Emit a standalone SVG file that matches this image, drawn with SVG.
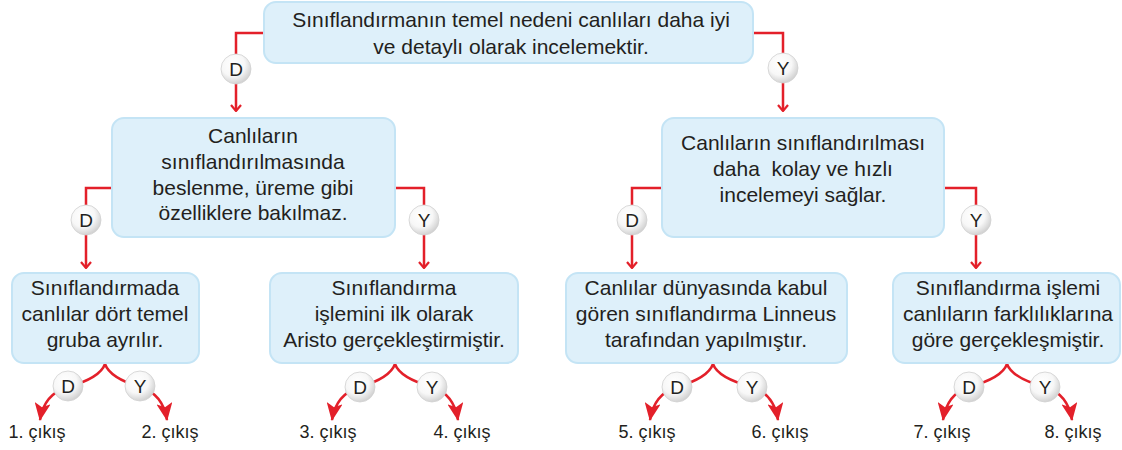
<svg xmlns="http://www.w3.org/2000/svg" width="1122" height="450" viewBox="0 0 1122 450">
<style>
.box{fill:#def0fa;stroke:#c4e4f5;stroke-width:2}
.t{font-family:"Liberation Sans",Arial,sans-serif;font-size:21px;fill:#231f20;text-anchor:middle}
.lbl{font-family:"Liberation Sans",Arial,sans-serif;font-size:18px;fill:#231f20;text-anchor:middle}
.bl{font-family:"Liberation Sans",Arial,sans-serif;font-size:19px;fill:#231f20;text-anchor:middle}
.c{fill:url(#cg);stroke:#d0d0d0;stroke-width:0.8}
.ln{fill:none;stroke:#e3202a;stroke-width:2.5}
.va{marker-end:url(#chev)}
.ca{marker-end:url(#tri)}
</style>
<defs>
<radialGradient id="cg" cx="0.4" cy="0.35" r="0.65">
<stop offset="0" stop-color="#ffffff"/>
<stop offset="0.6" stop-color="#f7f7f7"/>
<stop offset="1" stop-color="#d2d2d2"/>
</radialGradient>
<marker id="chev" viewBox="0 0 8 12" refX="7" refY="6" markerWidth="8" markerHeight="12" markerUnits="userSpaceOnUse" orient="auto">
<path d="M1,1 L7,6 L1,11" fill="none" stroke="#e3202a" stroke-width="2.2"/>
</marker>
<marker id="tri" viewBox="0 0 18 16" refX="17" refY="8" markerWidth="18" markerHeight="16" markerUnits="userSpaceOnUse" orient="auto">
<path d="M0,0 L18,8 L0,16 L4,8 z" fill="#e3202a"/>
</marker>
</defs>

<g id="connectors">
<path class="ln va" d="M264,33 H236 V111"/>
<path class="ln va" d="M753,33 H783 V111"/>
<path class="ln va" d="M112,188 H86 V268"/>
<path class="ln va" d="M395,188 H424 V268"/>
<path class="ln va" d="M662,188 H632 V268"/>
<path class="ln va" d="M944,188 H976 V268"/>
<path class="ln" d="M105,364 Q100,378 68,387"/>
<path class="ln" d="M105,364 Q110,378 140,387"/>
<path class="ln ca" d="M68,387 Q44,394 40,420"/>
<path class="ln ca" d="M140,387 Q163,394 167,420"/>

<path class="ln" d="M395,364 Q390,378 360,387"/>
<path class="ln" d="M395,364 Q400,378 432,387"/>
<path class="ln ca" d="M360,387 Q336,394 332,420"/>
<path class="ln ca" d="M432,387 Q454,394 458,420"/>

<path class="ln" d="M713,364 Q708,378 677,387"/>
<path class="ln" d="M713,364 Q718,378 752,387"/>
<path class="ln ca" d="M677,387 Q654,394 650,420"/>
<path class="ln ca" d="M752,387 Q774,394 778,420"/>

<path class="ln" d="M1007,364 Q1002,378 969,387"/>
<path class="ln" d="M1007,364 Q1012,378 1045,387"/>
<path class="ln ca" d="M969,387 Q947,394 943,420"/>
<path class="ln ca" d="M1045,387 Q1068,394 1072,420"/>
</g>

<g id="badges">
<circle class="c" cx="236" cy="69" r="15"/><text class="bl" x="236" y="76">D</text>
<circle class="c" cx="783" cy="68" r="15"/><text class="bl" x="783" y="75">Y</text>
<circle class="c" cx="86" cy="220" r="15"/><text class="bl" x="86" y="227">D</text>
<circle class="c" cx="424" cy="220" r="15"/><text class="bl" x="424" y="227">Y</text>
<circle class="c" cx="632" cy="220" r="15"/><text class="bl" x="632" y="227">D</text>
<circle class="c" cx="976" cy="220" r="15"/><text class="bl" x="976" y="227">Y</text>
<circle class="c" cx="68" cy="386" r="15"/><text class="bl" x="68" y="393">D</text>
<circle class="c" cx="140" cy="386" r="15"/><text class="bl" x="140" y="393">Y</text>
<circle class="c" cx="360" cy="387" r="15"/><text class="bl" x="360" y="394">D</text>
<circle class="c" cx="432" cy="387" r="15"/><text class="bl" x="432" y="394">Y</text>
<circle class="c" cx="677" cy="387" r="15"/><text class="bl" x="677" y="394">D</text>
<circle class="c" cx="752" cy="387" r="15"/><text class="bl" x="752" y="394">Y</text>
<circle class="c" cx="969" cy="387" r="15"/><text class="bl" x="969" y="394">D</text>
<circle class="c" cx="1045" cy="387" r="15"/><text class="bl" x="1045" y="394">Y</text>
</g>

<g id="n-root">
<rect class="box" x="264" y="2" width="489" height="61" rx="12"/>
<text class="t" x="511" y="27">Sınıflandırmanın temel nedeni canlıları daha iyi</text>
<text class="t" x="511" y="54">ve detaylı olarak incelemektir.</text>
</g>

<g id="n-left">
<rect class="box" x="112" y="118" width="283" height="119" rx="12"/>
<text class="t" x="253" y="143">Canlıların</text>
<text class="t" x="253" y="169">sınıflandırılmasında</text>
<text class="t" x="253" y="195">beslenme, üreme gibi</text>
<text class="t" x="253" y="220">özelliklere bakılmaz.</text>
</g>

<g id="n-right">
<rect class="box" x="662" y="118" width="282" height="119" rx="12"/>
<text class="t" x="803" y="150">Canlıların sınıflandırılması</text>
<text class="t" x="803" y="176" style="white-space:pre">daha  kolay ve hızlı</text>
<text class="t" x="803" y="202">incelemeyi sağlar.</text>
</g>

<g id="n-b1">
<rect class="box" x="12" y="273" width="187" height="90" rx="12"/>
<text class="t" x="105" y="295">Sınıflandırmada</text>
<text class="t" x="105" y="321">canlılar dört temel</text>
<text class="t" x="105" y="347">gruba ayrılır.</text>
</g>

<g id="n-b2">
<rect class="box" x="270" y="273" width="248" height="90" rx="12"/>
<text class="t" x="394" y="295">Sınıflandırma</text>
<text class="t" x="394" y="321">işlemini ilk olarak</text>
<text class="t" x="394" y="347">Aristo gerçekleştirmiştir.</text>
</g>

<g id="n-b3">
<rect class="box" x="566" y="273" width="281" height="90" rx="12"/>
<text class="t" x="706" y="295">Canlılar dünyasında kabul</text>
<text class="t" x="706" y="321">gören sınıflandırma Linneus</text>
<text class="t" x="706" y="347">tarafından yapılmıştır.</text>
</g>

<g id="n-b4">
<rect class="box" x="893" y="273" width="227" height="90" rx="12"/>
<text class="t" x="1008" y="295">Sınıflandırma işlemi</text>
<text class="t" x="1008" y="321">canlıların farklılıklarına</text>
<text class="t" x="1008" y="347">göre gerçekleşmiştir.</text>
</g>

<g id="outputs">
<text class="lbl" x="37" y="438">1. çıkış</text>
<text class="lbl" x="170" y="438">2. çıkış</text>
<text class="lbl" x="328" y="438">3. çıkış</text>
<text class="lbl" x="462" y="438">4. çıkış</text>
<text class="lbl" x="647" y="438">5. çıkış</text>
<text class="lbl" x="780" y="438">6. çıkış</text>
<text class="lbl" x="942" y="438">7. çıkış</text>
<text class="lbl" x="1073" y="438">8. çıkış</text>
</g>
</svg>
